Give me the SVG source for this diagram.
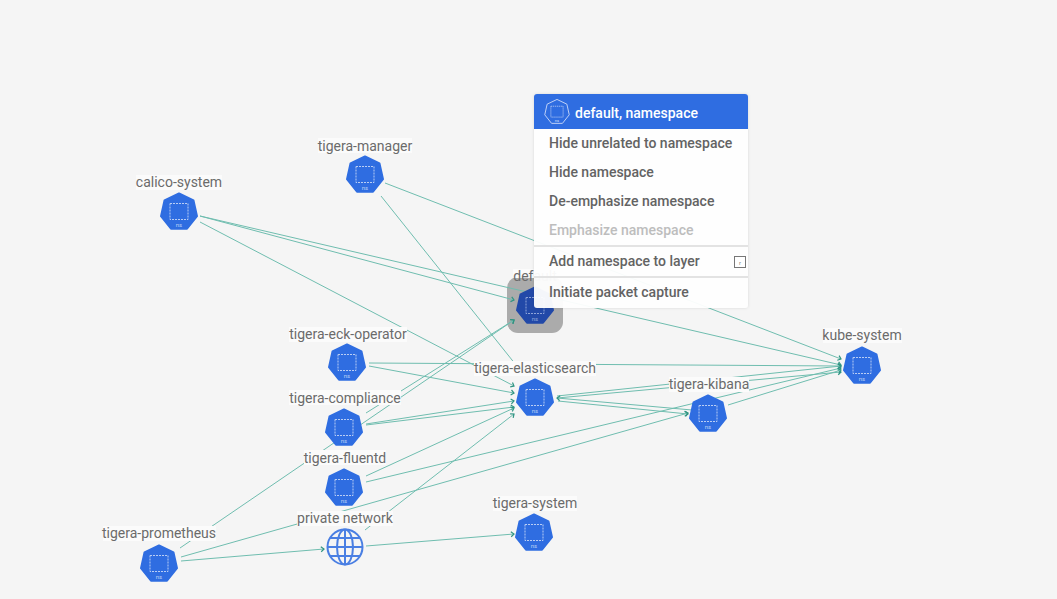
<svg xmlns="http://www.w3.org/2000/svg" width="1057" height="599" viewBox="0 0 1057 599">
<style>
text{font-family:Roboto,"Liberation Sans",sans-serif}
.bg{fill:#f5f5f5}
.e{fill:none;stroke:#6fbdaf;stroke-width:1;marker-end:url(#a)}
.hept{fill:#2f6de1;stroke:#2f6de1;stroke-width:2;stroke-linejoin:round}
.sq{fill:none;stroke:#b9cdf4;stroke-width:1;stroke-dasharray:2 1}
.ns{font-size:6px;fill:#b9cdf4;text-anchor:middle}
.lb{font-size:14px;fill:#6b6b6b;text-anchor:middle}
.lbg{fill:#fbfbfb}
.m{font-size:14px;font-weight:500;fill:#636363}
.sep{stroke:#e3e3e3;stroke-width:2}
</style>
<defs>
<marker id="a" markerUnits="userSpaceOnUse" markerWidth="8" markerHeight="8" refX="6.500" refY="4" orient="auto"><path d="M3.500 1.500 L6.500 4 L3.500 6.500" fill="none" stroke="#2f9482" stroke-width="1.200"/></marker>
<filter id="sh" x="-5%" y="-5%" width="110%" height="110%"><feDropShadow dx="0" dy="0" stdDeviation="1.500" flood-color="#000" flood-opacity=".12"/></filter>
<g id="ic">
<path class="hept" d="M0 -18.500 L14.500 -11.500 L18 4.100 L8 16.700 L-8 16.700 L-18 4.100 L-14.500 -11.500 Z"/>
<rect class="sq" x="-9" y="-8.500" width="18" height="16"/>
<text class="ns" x="0" y="14.500">ns</text>
</g>
</defs>
<rect class="bg" width="1057" height="599"/>
<g id="default-halo"><rect x="507" y="277" width="56" height="56" rx="11" fill="#ababab"/></g>
<g id="connectors">
<line class="e" x1="200" y1="216" x2="514" y2="300"/>
<line class="e" x1="200" y1="216" x2="841" y2="365"/>
<line class="e" x1="200" y1="222" x2="514" y2="386"/>
<line class="e" x1="385" y1="183" x2="841" y2="359"/>
<line class="e" x1="381" y1="196" x2="524" y2="375"/>
<line class="e" x1="369" y1="363" x2="841" y2="366"/>
<line class="e" x1="369" y1="366" x2="514" y2="393"/>
<line class="e" x1="366" y1="413" x2="514" y2="320"/>
<line class="e" x1="366" y1="424" x2="514" y2="401"/>
<line class="e" x1="366" y1="425" x2="514" y2="407"/>
<line class="e" x1="366" y1="476" x2="514" y2="408"/>
<line class="e" x1="366" y1="482" x2="841" y2="368"/>
<line class="e" x1="365" y1="530" x2="514" y2="414"/>
<line class="e" x1="180" y1="548" x2="514" y2="320"/>
<line class="e" x1="181" y1="557" x2="688" y2="413"/>
<line class="e" x1="181" y1="561" x2="324" y2="549"/>
<line class="e" x1="366" y1="546" x2="514" y2="534"/>
<line class="e" x1="557" y1="396" x2="841" y2="366"/>
<line class="e" x1="557" y1="398" x2="841" y2="372"/>
<line class="e" x1="692" y1="410" x2="557" y2="398"/>
<line class="e" x1="558" y1="401" x2="688" y2="414"/>
<line class="e" x1="728" y1="405" x2="841" y2="370"/>
</g>
<g id="calico-system"><rect class="lbg" x="136" y="175" width="86" height="15"/><text class="lb" x="179" y="187">calico-system</text><use href="#ic" x="179" y="212"/></g>
<g id="tigera-manager"><rect class="lbg" x="318" y="138" width="94" height="15"/><text class="lb" x="365" y="151">tigera-manager</text><use href="#ic" x="365" y="175"/></g>
<g id="default"><rect class="lbg" x="513" y="269" width="44" height="9"/><text class="lb" x="535" y="281">default</text><path d="M535 287.500 L549.500 294.500 L553 310.100 L543 322.700 L527 322.700 L517 310.100 L520.500 294.500 Z" fill="#2249a8" stroke="#2249a8" stroke-width="2" stroke-linejoin="round"/><rect x="526" y="297.500" width="18" height="16" fill="none" stroke="#8ea4d8" stroke-dasharray="2 1"/><text class="ns" x="535" y="320.500" style="fill:#8ea4d8">ns</text></g>
<g id="tigera-eck-operator"><rect class="lbg" x="289" y="327" width="118" height="15"/><text class="lb" x="348" y="339">tigera-eck-operator</text><use href="#ic" x="347" y="363"/></g>
<g id="tigera-elasticsearch"><rect class="lbg" x="474" y="361" width="122" height="15"/><text class="lb" x="535" y="373">tigera-elasticsearch</text><use href="#ic" x="535" y="398"/></g>
<g id="kube-system"><rect class="lbg" x="823" y="328" width="79" height="15"/><text class="lb" x="862" y="340">kube-system</text><use href="#ic" x="862" y="366"/></g>
<g id="tigera-kibana"><rect class="lbg" x="669" y="377" width="80" height="15"/><text class="lb" x="709" y="389">tigera-kibana</text><use href="#ic" x="708" y="414"/></g>
<g id="tigera-compliance"><rect class="lbg" x="289" y="390" width="112" height="15"/><text class="lb" x="345" y="403">tigera-compliance</text><use href="#ic" x="344" y="428"/></g>
<g id="tigera-fluentd"><rect class="lbg" x="304" y="450" width="82" height="15"/><text class="lb" x="345" y="463">tigera-fluentd</text><use href="#ic" x="344" y="488"/></g>
<g id="tigera-system"><rect class="lbg" x="493" y="496" width="84" height="15"/><text class="lb" x="535" y="508">tigera-system</text><use href="#ic" x="534" y="533"/></g>
<g id="private-network"><rect class="lbg" x="297" y="511" width="96" height="15"/><text class="lb" x="345" y="523">private network</text>
<g fill="none" stroke="#4a7fe3" stroke-width="2"><circle cx="345" cy="547" r="17.500"/><ellipse cx="345" cy="547" rx="8" ry="17.500"/><path d="M345 529.500V564.500M327.500 547H362.500M330 538H360M330 556H360"/></g></g>
<g id="tigera-prometheus"><rect class="lbg" x="103" y="526" width="113" height="15"/><text class="lb" x="159" y="538">tigera-prometheus</text><use href="#ic" x="159" y="564"/></g>
<g id="context-menu">
<rect x="534" y="94" width="214" height="214" rx="3" fill="#fff" fill-opacity=".95" filter="url(#sh)"/>
<path d="M537 94H745a3 3 0 0 1 3 3V129H534V97a3 3 0 0 1 3-3Z" fill="#2f6de1"/>
<g transform="translate(557 112) scale(.68)"><path d="M0 -18.500 L14.500 -11.500 L18 4.100 L8 16.700 L-8 16.700 L-18 4.100 L-14.500 -11.500 Z" fill="none" stroke="#cfdcf8" stroke-width="1.300"/><rect x="-9" y="-8.500" width="18" height="16" fill="none" stroke="#cfdcf8" stroke-dasharray="2 1"/><text class="ns" y="14.500" style="fill:#cfdcf8">ns</text></g>
<text x="575" y="118" font-size="14" font-weight="500" fill="#fff">default, namespace</text>
<text class="m" x="549" y="148">Hide unrelated to namespace</text>
<text class="m" x="549" y="177">Hide namespace</text>
<text class="m" x="549" y="206">De-emphasize namespace</text>
<text class="m" x="549" y="235" style="fill:#bdbdbd">Emphasize namespace</text>
<line class="sep" x1="534" x2="748" y1="246" y2="246"/>
<text class="m" x="549" y="266">Add namespace to layer</text>
<rect x="734.500" y="256.500" width="11" height="11" fill="#fff" stroke="#777"/>
<text x="740" y="265" font-size="6" fill="#888" text-anchor="middle">r</text>
<line class="sep" x1="534" x2="748" y1="277" y2="277"/>
<text class="m" x="549" y="297">Initiate packet capture</text>
</g>
</svg>
